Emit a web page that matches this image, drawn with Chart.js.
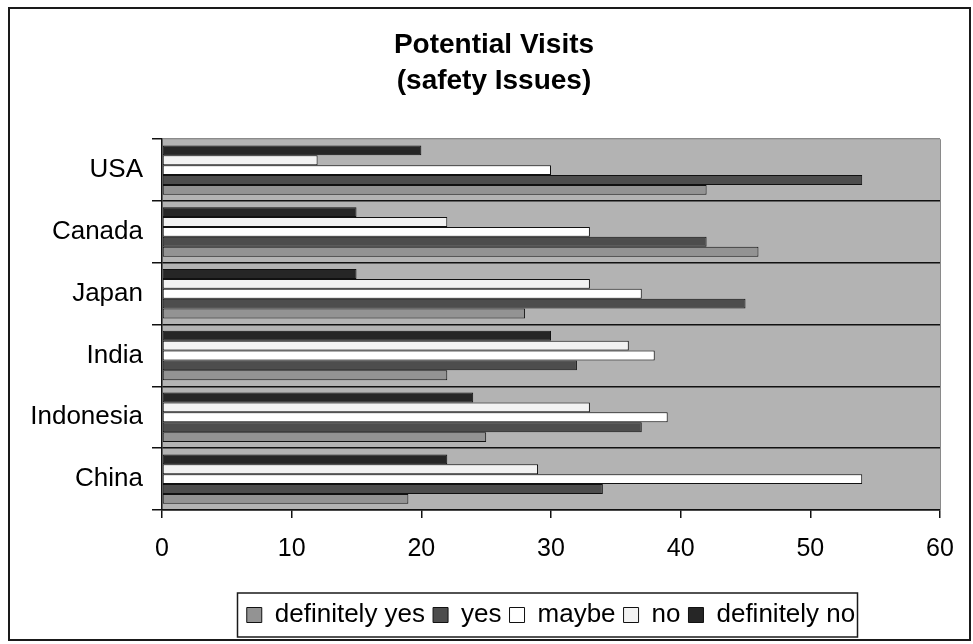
<!DOCTYPE html>
<html>
<head>
<meta charset="utf-8">
<title>Potential Visits (safety Issues)</title>
<script src="https://cdn.jsdelivr.net/npm/chart.js@4/dist/chart.umd.min.js"></script>
<style>
  html, body { margin: 0; padding: 0; background: #ffffff; }
  #wrap { width: 973px; height: 644px; position: relative; }
</style>
</head>
<body>
<div id="wrap"><canvas id="chart" width="973" height="644"></canvas></div>
<script>
// Countries, listed top to bottom
const categories = ['USA', 'Canada', 'Japan', 'India', 'Indonesia', 'China'];

// Responses per country
const definitelyYes = [42, 46, 28, 22, 25, 19];
const yes           = [54, 42, 45, 32, 37, 34];
const maybe         = [30, 33, 37, 38, 39, 54];
const no            = [12, 22, 33, 36, 33, 29];
const definitelyNo  = [20, 15, 15, 30, 24, 22];

// Value axis ticks
const xTicks = [0, 10, 20, 30, 40, 50, 60];

const FONT = "'Liberation Sans', Arial, Helvetica, sans-serif";

// Grey plot background, right edge of the plot and the outer frame
const framePlugin = {
  id: 'frame',
  beforeDraw(chart) {
    const { ctx, chartArea: a } = chart;
    ctx.save();
    ctx.fillStyle = '#ffffff';
    ctx.fillRect(0, 0, chart.width, chart.height);
    ctx.fillStyle = '#b3b3b3';
    ctx.fillRect(a.left, a.top, a.right - a.left, a.bottom - a.top);
    ctx.restore();
  },
  afterDraw(chart) {
    const { ctx, chartArea: a } = chart;
    ctx.save();
    ctx.strokeStyle = '#8a8a8a';
    ctx.lineWidth = 1;
    ctx.beginPath();
    ctx.moveTo(a.right + 0.5, a.top);
    ctx.lineTo(a.right + 0.5, a.bottom);
    ctx.stroke();

    // outer frame
    ctx.strokeStyle = '#1a1a1a';
    ctx.lineWidth = 2;
    ctx.strokeRect(9, 8, 961, 632);

    // box around the legend
    const hb = chart.legend.legendHitBoxes;
    if (hb && hb.length) {
      let l = Infinity, r = -Infinity, cy = 0;
      hb.forEach(h => { l = Math.min(l, h.left); r = Math.max(r, h.left + h.width); cy += h.top + h.height / 2; });
      cy /= hb.length;
      ctx.strokeStyle = '#1a1a1a';
      ctx.lineWidth = 1.5;
      ctx.strokeRect(Math.round(l) - 9.5, Math.round(cy) - 22, Math.round(r - l) + 12, 44);
    }
    ctx.restore();
  }
};

const barStyle = (label, data, fill) => ({
  label, data,
  backgroundColor: fill,
  borderColor: '#111111',
  borderWidth: 1,
  borderSkipped: false,
  categoryPercentage: 0.8,
  barPercentage: 1.0
});

new Chart(document.getElementById('chart'), {
  type: 'bar',
  data: {
    labels: categories,
    // listed in the order they appear from the top of each group
    datasets: [
      barStyle('definitely no', definitelyNo, '#262626'),
      barStyle('no', no, '#f2f2f2'),
      barStyle('maybe', maybe, '#ffffff'),
      barStyle('yes', yes, '#4d4d4d'),
      barStyle('definitely yes', definitelyYes, '#939393')
    ]
  },
  options: {
    indexAxis: 'y',
    responsive: false,
    animation: false,
    layout: { padding: { top: 0, right: 0, bottom: 6, left: 15 } },
    plugins: {
      title: {
        display: true,
        text: ['Potential Visits', '(safety Issues)'],
        color: '#000000',
        font: { family: FONT, size: 28, weight: 'bold', lineHeight: 1.29 },
        padding: { top: 27, bottom: 40 }
      },
      legend: {
        position: 'bottom',
        fullSize: false,
        labels: {
          color: '#000000',
          font: { family: FONT, size: 26 },
          boxWidth: 15,
          boxHeight: 15,
          padding: 8,
          sort: (a, b) => b.datasetIndex - a.datasetIndex
        }
      },
      tooltip: { enabled: false }
    },
    scales: {
      x: {
        min: 0,
        max: 60,
        afterBuildTicks(scale) { scale.ticks = xTicks.map(v => ({ value: v })); },
        afterFit(scale) { scale.height = 84; scale.paddingRight = 33; },
        ticks: { color: '#000000', font: { family: FONT, size: 25 }, padding: 16, maxRotation: 0 },
        grid: { drawOnChartArea: false, drawTicks: true, tickLength: 8, color: '#111111', lineWidth: 1.5 },
        border: { display: true, color: '#111111', width: 1.5 }
      },
      y: {
        afterFit(scale) { scale.width = 147; },
        ticks: { color: '#000000', font: { family: FONT, size: 26 }, padding: 9 },
        grid: {
          offset: true,
          drawTicks: true,
          tickLength: 10,
          color: ctx => ctx.index === 0 ? '#8a8a8a' : '#111111',
          tickColor: '#111111',
          lineWidth: 1.5
        },
        border: { display: true, color: '#111111', width: 1.5 }
      }
    }
  },
  plugins: [framePlugin]
});
</script>
</body>
</html>
